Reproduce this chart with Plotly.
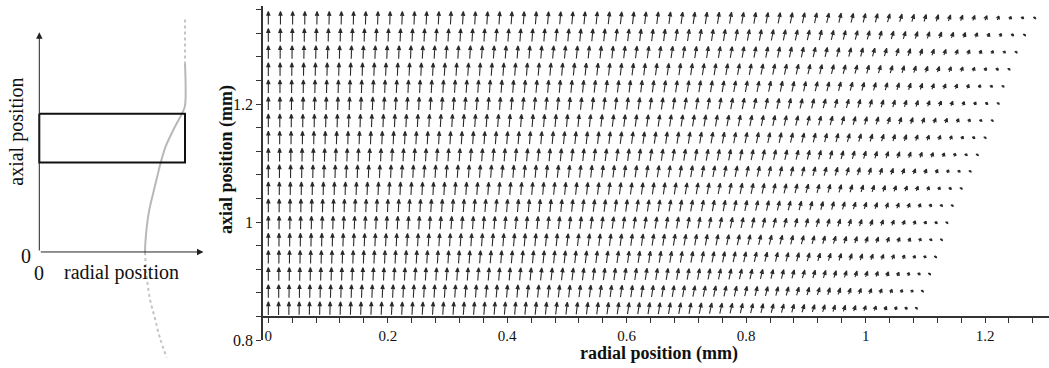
import numpy as np
import plotly.graph_objects as go

# ---------------- data ----------------
# quiver field: one row of arrows per axial position, columns spread from r=0 to the row's outer radius
row_z = [0.854, 0.883, 0.912, 0.941, 0.970, 0.999, 1.028, 1.057, 1.086,
         1.114, 1.143, 1.172, 1.201, 1.230, 1.259, 1.288, 1.317, 1.346]
row_R = [1.085, 1.095, 1.107, 1.117, 1.127, 1.136, 1.145, 1.160, 1.175,
         1.187, 1.200, 1.212, 1.222, 1.230, 1.240, 1.252, 1.266, 1.283]
n_cols = 64
# arrow length (px) and tilt from vertical (deg) vs relative radius r/R
prof_s = [0.0, 0.4, 0.6, 0.7, 0.8, 0.88, 0.94, 0.98, 1.0]
prof_len_px = [13.5, 13.0, 12.0, 11.0, 9.0, 7.0, 5.0, 3.0, 2.0]
prof_tilt_deg = [0.0, 5.0, 9.0, 12.0, 15.0, 18.0, 21.0, 26.0, 35.0]

x_tickvals = [round(0.04 * i, 2) for i in range(33)]
x_ticklabels = {0.0: "0", 0.2: "0.2", 0.4: "0.4", 0.6: "0.6", 0.8: "0.8", 1.0: "1", 1.2: "1.2"}
y_tickvals = [round(0.8 + 0.04 * i, 2) for i in range(15)]
y_ticklabels = {0.8: "0.8", 1.0: "1", 1.2: "1.2"}

# schematic (left panel, in its own drawing units)
sch_origin = (39.3, 258.3)
sch_xtip = (203.5, 258.3)
sch_ytip = (39.3, 33.0)
sch_box_r = [39.3, 185.0, 185.0, 39.3, 39.3]
sch_box_z = [116.7, 116.7, 166.7, 166.7, 116.7]
curve_r = [185.0, 185.0, 182.7, 178.0, 173.3, 165.7, 160.7, 156.7, 152.7, 149.0, 146.7, 145.3, 145.0]
curve_z = [65.0, 108.3, 115.0, 124.0, 133.3, 150.0, 166.7, 183.3, 200.0, 216.7, 233.3, 250.0, 258.3]
dot_top_r = [185.0, 185.0]
dot_top_z = [20.0, 65.0]
dot_bot_r = [145.0, 146.7, 150.0, 155.0, 160.0, 166.7]
dot_bot_z = [258.3, 283.3, 306.7, 326.7, 346.7, 366.7]

# ---------------- layout geometry ----------------
W, H = 1049, 368
x_range = [-0.0084, 1.307]
y_range = [0.8, 1.3665]
dom_x_px = [263.3, 1049.0]
dom_y_px = [348.7, 6.0]          # bottom, top (screen px)
sx = (dom_x_px[1] - dom_x_px[0]) / (x_range[1] - x_range[0])
sy = (dom_y_px[0] - dom_y_px[1]) / (y_range[1] - y_range[0])
xaxis_at = 0.84
xaxis_pos = (H - (dom_y_px[0] - (xaxis_at - y_range[0]) * sy)) / H

# ---------------- build arrows ----------------
ax_, ay_ = [], []
for z, R in zip(row_z, row_R):
    for i in range(n_cols):
        s = i / (n_cols - 1)
        x = R * s
        L = float(np.interp(s, prof_s, prof_len_px))
        th = np.radians(float(np.interp(s, prof_s, prof_tilt_deg)))
        ux, uy = np.sin(th), np.cos(th)
        tx, ty = x - 0.5 * L * ux / sx, z - 0.5 * L * uy / sy
        hx, hy = x + 0.5 * L * ux / sx, z + 0.5 * L * uy / sy
        hl = min(4.0, 0.6 * L)
        hw = 1.5
        bx, by = hx - hl * ux / sx, hy - hl * uy / sy
        px, py = uy, -ux
        lx, ly = bx + hw * px / sx, by + hw * py / sy
        rx, ry = bx - hw * px / sx, by - hw * py / sy
        ax_ += [tx, hx, lx, rx, hx, None]
        ay_ += [ty, hy, ly, ry, hy, None]

fig = go.Figure()
fig.add_trace(go.Scatter(x=ax_, y=ay_, mode="lines",
                         line=dict(color="#2a2a2a", width=1.1),
                         hoverinfo="skip", showlegend=False))

# schematic traces
fig.add_trace(go.Scatter(x=dot_top_r, y=dot_top_z, mode="lines", xaxis="x2", yaxis="y2",
                         line=dict(color="#c4c4c4", width=2, dash="dot"), showlegend=False))
fig.add_trace(go.Scatter(x=dot_bot_r, y=dot_bot_z, mode="lines", xaxis="x2", yaxis="y2",
                         line=dict(color="#c4c4c4", width=2, dash="dot", shape="spline"), showlegend=False))
fig.add_trace(go.Scatter(x=curve_r, y=curve_z, mode="lines", xaxis="x2", yaxis="y2",
                         line=dict(color="#b8b8b8", width=2, shape="spline"), showlegend=False))
fig.add_trace(go.Scatter(x=sch_box_r, y=sch_box_z, mode="lines", xaxis="x2", yaxis="y2",
                         line=dict(color="#111111", width=2), showlegend=False))

serif = "Liberation Serif, Times New Roman, serif"
ann = []
for tip in (sch_xtip, sch_ytip):
    ann.append(dict(x=tip[0], y=tip[1], ax=sch_origin[0], ay=sch_origin[1],
                    xref="x2", yref="y2", axref="x2", ayref="y2", text="",
                    showarrow=True, arrowhead=2, arrowsize=1.3, arrowwidth=1, arrowcolor="#222"))
txt = dict(showarrow=False, xanchor="center", yanchor="middle")
ann += [
    dict(x=26, y=262, xref="x2", yref="y2", text="0",
         font=dict(family=serif, size=20, color="#111"), **txt),
    dict(x=39.3, y=280, xref="x2", yref="y2", text="0",
         font=dict(family=serif, size=20, color="#111"), **txt),
    dict(x=121, y=279, xref="x2", yref="y2", text="radial position",
         font=dict(family=serif, size=20, color="#111"), **txt),
    dict(x=17, y=135, xref="x2", yref="y2", text="axial position",
         textangle=-90, font=dict(family=serif, size=20, color="#111"), **txt),
    dict(x=658.5 / W, y=(H - 362) / H, xref="paper", yref="paper", text="<b>radial position (mm)</b>",
         font=dict(family=serif, size=18, color="#111"), **txt),
    dict(x=227 / W, y=(H - 164) / H, xref="paper", yref="paper", text="<b>axial position (mm)</b>",
         textangle=-90, font=dict(family=serif, size=18, color="#111"), **txt),
]

fig.update_layout(
    width=W, height=H, margin=dict(l=0, r=0, t=0, b=0),
    paper_bgcolor="white", plot_bgcolor="rgba(0,0,0,0)",
    hovermode=False, showlegend=False, annotations=ann,
    xaxis=dict(range=x_range, domain=[dom_x_px[0] / W, dom_x_px[1] / W],
               anchor="free", position=xaxis_pos,
               showline=True, linecolor="#333", linewidth=2, showgrid=False, zeroline=False,
               ticks="outside", ticklen=5, tickwidth=1.3, tickcolor="#333",
               tickmode="array", tickvals=x_tickvals,
               ticktext=[x_ticklabels.get(v, "") for v in x_tickvals],
               tickfont=dict(family=serif, size=15, color="#111")),
    yaxis=dict(range=y_range, domain=[(H - dom_y_px[0]) / H, (H - dom_y_px[1]) / H],
               anchor="x", showline=True, linecolor="#333", linewidth=2, showgrid=False,
               zeroline=False, ticks="outside", ticklen=5, tickwidth=1.3, tickcolor="#333",
               tickmode="array", tickvals=y_tickvals,
               ticktext=[y_ticklabels.get(v, "") for v in y_tickvals],
               tickfont=dict(family=serif, size=16, color="#111")),
    xaxis2=dict(range=[0, 220], domain=[0, 220 / W], visible=False, anchor="y2"),
    yaxis2=dict(range=[H, 0], domain=[0, 1], visible=False, anchor="x2"),
)

fig.write_html("out.html")
